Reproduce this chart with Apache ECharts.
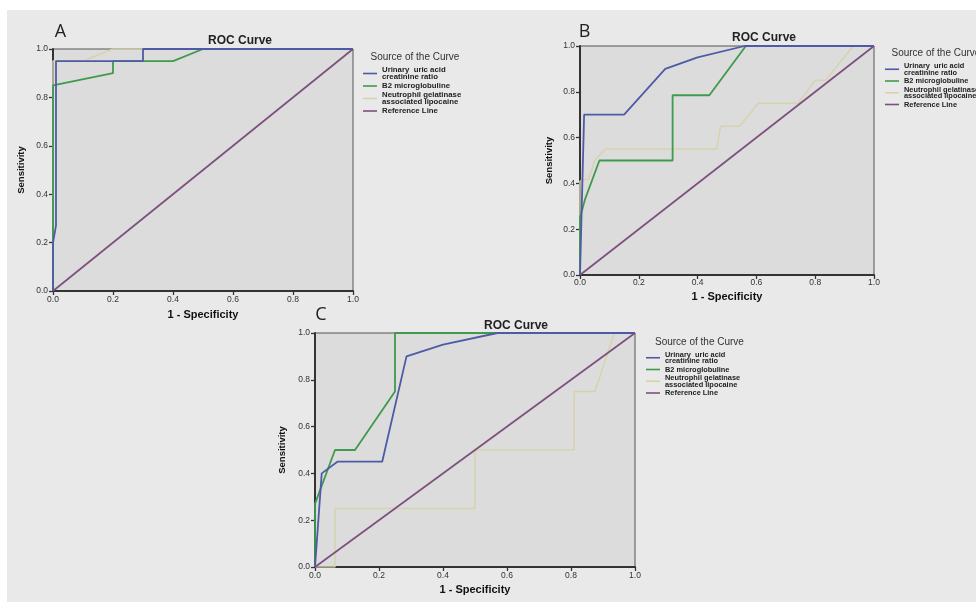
<!DOCTYPE html>
<html><head><meta charset="utf-8">
<script src="https://cdn.jsdelivr.net/npm/echarts@6/dist/echarts.min.js"></script>
<style>
html,body{margin:0;padding:0;background:#fff;}
#bg{position:absolute;left:7px;top:10px;width:969px;height:592px;background:#e9e9e9;}
#c{position:absolute;left:0;top:0;width:976px;height:602px;}
</style>
</head><body><div id="bg"></div><div id="c"></div>
<script>
// ---- data ----
const seriesNames = ['Urinary  uric acid\ncreatinine ratio', 'B2 microglobuline', 'Neutrophil gelatinase\nassociated lipocaine', 'Reference Line'];
const panelLabels = ['A', 'B', 'C'];
const chartTitle = 'ROC Curve';
const legendTitle = 'Source of the Curve';
const xAxisName = '1 - Specificity';
const yAxisName = 'Sensitivity';
const tickInterval = 0.2;

// Panel A
const aUric = [[0,0],[0,0.2],[0.01,0.27],[0.01,0.95],[0.3,0.95],[0.3,1],[1,1]];
const aB2   = [[0,0],[0,0.85],[0.2,0.9],[0.2,0.95],[0.4,0.95],[0.5,1],[1,1]];
const aNgal = [[0,0],[0,0.95],[0.1,0.95],[0.2,1],[1,1]];
// Panel B
const bUric = [[0,0],[0.014,0.7],[0.15,0.7],[0.29,0.9],[0.4,0.95],[0.56,1],[1,1]];
const bB2   = [[0,0],[0,0.25],[0.017,0.33],[0.066,0.5],[0.315,0.5],[0.315,0.785],[0.44,0.785],[0.564,1],[1,1]];
const bNgal = [[0,0],[0,0.41],[0.03,0.42],[0.05,0.5],[0.087,0.55],[0.465,0.55],[0.478,0.65],[0.544,0.65],[0.606,0.75],[0.742,0.75],[0.8,0.85],[0.835,0.85],[0.93,1],[1,1]];
// Panel C
const cUric = [[0,0],[0.021,0.4],[0.07,0.45],[0.21,0.45],[0.286,0.9],[0.4,0.95],[0.57,1],[1,1]];
const cB2   = [[0,0],[0,0.27],[0.0625,0.5],[0.125,0.5],[0.25,0.75],[0.25,1],[1,1]];
const cNgal = [[0,0],[0.0625,0],[0.0625,0.25],[0.5,0.25],[0.5,0.5],[0.81,0.5],[0.81,0.75],[0.875,0.75],[0.935,1],[1,1]];
// Reference line (same on all panels)
const refLine = [[0,0],[1,1]];

const panelData = [
  [aUric, aB2, aNgal, refLine],
  [bUric, bB2, bNgal, refLine],
  [cUric, cB2, cNgal, refLine]
];

// ---- styling / layout ----
const FONT = '"Liberation Sans", Arial, sans-serif';
const lineColors = ['#4d5ba6', '#3f9a4c', '#d6d3ac', '#7d4f7f'];
const lineWidths = [1.8, 1.8, 1.5, 1.7];
const grids = [
  {left: 53, top: 49, width: 300, height: 242},
  {left: 580, top: 46, width: 294, height: 229},
  {left: 315, top: 333, width: 320, height: 234}
];
const xNameGap = [18, 16, 17.5];
const yNameGap = [27, 26, 28];
const xLabelMargin = [4.5, 3.5, 4];
const letterPos = [[60.5, 32], [584.5, 32], [321, 315]];
const titlePos = [[240, 41], [764, 38], [516, 326]];
const legTitlePos = [[370.5, 57.5], [891.5, 53.5], [655, 342]];
const legendPos = [
  {left: 363, top: 66, gap: 1, lh: 7, fs: 7.8},
  {left: 885, top: 62.5, gap: 1.5, lh: 6.5, fs: 7.4},
  {left: 646, top: 351, gap: 1.5, lh: 6.5, fs: 7.4}
];

const chart = echarts.init(document.getElementById('c'), null, {renderer: 'canvas'});

const option = {
  animation: false,
  backgroundColor: 'transparent',
  grid: grids.map(g => Object.assign({
    show: true, backgroundColor: '#dcdcdc', borderColor: '#555', borderWidth: 1, containLabel: false
  }, g)),
  xAxis: grids.map((g, i) => ({
    gridIndex: i, type: 'value', min: 0, max: 1, interval: tickInterval,
    axisLine: {show: true, onZero: false, lineStyle: {color: '#333', width: 2}},
    axisTick: {show: true, length: 4, lineStyle: {color: '#333', width: 1.3}},
    axisLabel: {fontSize: 8.5, color: '#333', margin: xLabelMargin[i], fontFamily: FONT, formatter: v => v.toFixed(1)},
    splitLine: {show: false},
    name: xAxisName, nameLocation: 'middle', nameGap: xNameGap[i],
    nameTextStyle: {fontSize: 11, fontWeight: 'bold', color: '#111', fontFamily: FONT}
  })),
  yAxis: grids.map((g, i) => ({
    gridIndex: i, type: 'value', min: 0, max: 1, interval: tickInterval,
    axisLine: {show: true, onZero: false, lineStyle: {color: '#333', width: 2}},
    axisTick: {show: true, length: 4, lineStyle: {color: '#333', width: 1.3}},
    axisLabel: {fontSize: 8.5, color: '#333', margin: 5, fontFamily: FONT, formatter: v => v.toFixed(1)},
    splitLine: {show: false},
    name: yAxisName, nameLocation: 'middle', nameGap: yNameGap[i],
    nameTextStyle: {fontSize: 9.5, fontWeight: 'bold', color: '#111', fontFamily: FONT}
  })),
  legend: legendPos.map(l => ({
    data: seriesNames, orient: 'vertical', left: l.left, top: l.top,
    icon: 'rect', itemWidth: 14, itemHeight: 1.6, itemGap: l.gap, selectedMode: false,
    padding: 0,
    textStyle: {fontSize: l.fs, lineHeight: l.lh, fontWeight: 'bold', color: '#222', fontFamily: FONT}
  })),
  graphic: [].concat(
    panelLabels.map((t, i) => ({
      type: 'text', x: letterPos[i][0], y: letterPos[i][1],
      style: {text: t, fontSize: 18, fontFamily: '"Open Sans", "DejaVu Sans", sans-serif', fontWeight: 'normal', fill: '#222', align: 'center', verticalAlign: 'middle'}
    })),
    titlePos.map(p => ({
      type: 'text', x: p[0], y: p[1],
      style: {text: chartTitle, fontSize: 12, fontWeight: 'bold', fontFamily: FONT, fill: '#222', align: 'center', verticalAlign: 'middle'}
    })),
    legTitlePos.map(p => ({
      type: 'text', x: p[0], y: p[1],
      style: {text: legendTitle, fontSize: 10, fontFamily: FONT, fill: '#333', align: 'left', verticalAlign: 'middle'}
    }))
  ),
  series: []
};

panelData.forEach((sets, pi) => {
  sets.forEach((d, si) => {
    option.series.push({
      type: 'line', name: seriesNames[si],
      xAxisIndex: pi, yAxisIndex: pi,
      data: d, symbol: 'none', showSymbol: false,
      color: lineColors[si],
      lineStyle: {color: lineColors[si], width: lineWidths[si]},
      z: si === 3 ? 5 : 3 - si
    });
  });
});

chart.setOption(option);
</script>
</body></html>
